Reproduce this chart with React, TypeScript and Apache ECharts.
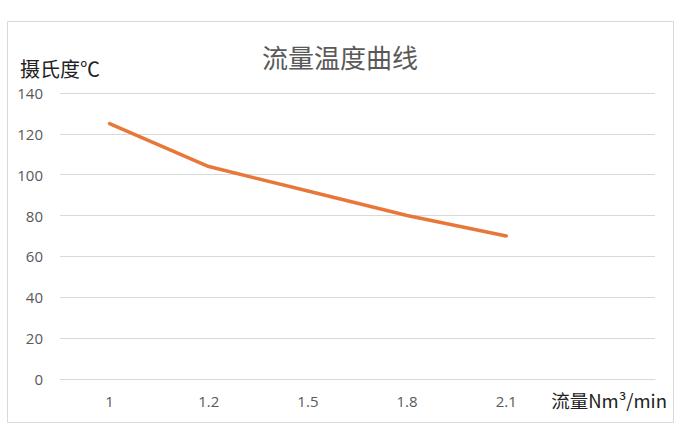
import React, { useEffect, useRef } from "react";
import * as echarts from "echarts";

// 流量 (Nm³/min) categories; last slot is an empty band as in the source chart
const flowCategories = ["1", "1.2", "1.5", "1.8", "2.1", ""];
const temperatureValues = [125, 104, 92, 80, 70];
const yTicks = { min: 0, max: 140, interval: 20 };

const GRID_COLOR = "#d9d9d9";
const LABEL_COLOR = "#595959";
const FONT = "'Open Sans', 'Noto Sans CJK SC', sans-serif";
const CJK_FONT = "'Noto Sans CJK SC', sans-serif";

const App = () => {
  const chartRef = useRef<HTMLDivElement | null>(null);

  useEffect(() => {
    if (!chartRef.current) return;
    const myChart = echarts.init(chartRef.current, undefined, { renderer: "svg" });

    const option = {
      animation: false,
      textStyle: { fontFamily: FONT },
      title: {
        text: "流量温度曲线",
        left: "center",
        top: 38,
        textStyle: {
          fontSize: 26,
          fontWeight: "normal",
          color: LABEL_COLOR,
          fontFamily: CJK_FONT,
        },
      },
      graphic: [
        {
          type: "rect",
          shape: { x: 7.5, y: 21.5, width: 666, height: 401 },
          style: { fill: "none", stroke: GRID_COLOR, lineWidth: 1 },
          silent: true,
        },
      ],
      grid: {
        left: 60,
        right: 25,
        top: 93,
        bottom: 61,
      },
      xAxis: {
        type: "category",
        data: flowCategories,
        name: "流量Nm³/min",
        nameLocation: "end",
        nameGap: 12,
        nameTextStyle: {
          align: "right",
          verticalAlign: "top",
          padding: [12, 0, 0, 0],
          fontSize: 18.5,
          color: "#222",
          fontFamily: CJK_FONT,
        },
        axisLine: { show: true, lineStyle: { color: GRID_COLOR, width: 1 } },
        axisTick: { show: false },
        axisLabel: { color: LABEL_COLOR, fontSize: 15, margin: 14 },
      },
      yAxis: {
        type: "value",
        min: yTicks.min,
        max: yTicks.max,
        interval: yTicks.interval,
        name: "摄氏度℃",
        nameLocation: "end",
        nameGap: 25,
        nameTextStyle: {
          align: "center",
          verticalAlign: "middle",
          fontSize: 20,
          color: "#222",
          fontFamily: CJK_FONT,
        },
        axisLine: { show: false },
        axisTick: { show: false },
        axisLabel: { color: LABEL_COLOR, fontSize: 15, margin: 17 },
        splitLine: { lineStyle: { color: GRID_COLOR, width: 1 } },
      },
      series: [
        {
          name: "温度",
          type: "line",
          data: temperatureValues,
          showSymbol: false,
          lineStyle: { color: "#E8783A", width: 3.5, cap: "round" },
          itemStyle: { color: "#E8783A" },
        },
      ],
    };

    myChart.setOption(option);
    return () => {
      myChart.dispose();
    };
  }, []);

  return (
    <div
      ref={chartRef}
      style={{ position: "absolute", left: 0, top: 0, width: "680px", height: "440px", background: "#fff" }}
    ></div>
  );
};

export default App;
